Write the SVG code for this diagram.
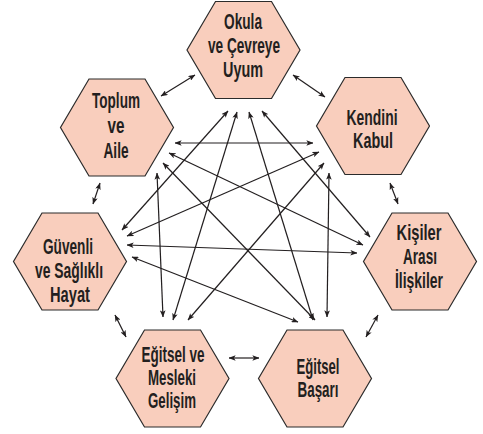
<svg xmlns="http://www.w3.org/2000/svg" width="483" height="434" viewBox="0 0 483 434">
<style>
.hex{fill:#f9cebd;stroke:#2b2b2b;stroke-width:1.2}
.t{font-family:"Liberation Sans Narrow","Liberation Sans",sans-serif;font-weight:bold;font-size:22px;fill:#231f20;text-anchor:middle}
.c line{stroke:#231f20;stroke-width:1.2;marker-start:url(#ah);marker-end:url(#ah)}
</style>
<defs>
<path id="hx" d="M-28,-48.5 L28,-48.5 L56.5,0 L28,48.5 L-28,48.5 L-56.5,0 Z"/>
<marker id="ah" viewBox="0 0 10 8" refX="9.5" refY="4" markerWidth="7" markerHeight="5.6" markerUnits="userSpaceOnUse" orient="auto-start-reverse">
<path d="M0,0 L10,4 L0,8 L2.5,4 Z" fill="#231f20"/>
</marker>
</defs>
<rect width="483" height="434" fill="#fff"/>
<g class="c" id="connectors">
<line x1="161" y1="96" x2="195" y2="75"/>
<line x1="293" y1="75" x2="325" y2="97"/>
<line x1="100" y1="183" x2="93" y2="204"/>
<line x1="390" y1="183" x2="398" y2="204"/>
<line x1="115" y1="315" x2="126" y2="337"/>
<line x1="378" y1="315" x2="366" y2="337"/>
<line x1="229" y1="358" x2="259" y2="358"/>
<line x1="175" y1="143" x2="313" y2="143"/>
<line x1="169" y1="153" x2="363" y2="245"/>
<line x1="163" y1="163" x2="315" y2="320"/>
<line x1="157" y1="173" x2="163" y2="317"/>
<line x1="319" y1="152" x2="127" y2="236"/>
<line x1="324" y1="163" x2="188" y2="320"/>
<line x1="329" y1="173" x2="327" y2="317"/>
<line x1="228" y1="111" x2="122" y2="230"/>
<line x1="127" y1="245" x2="357" y2="253"/>
<line x1="132" y1="257" x2="298" y2="322"/>
<line x1="262" y1="111" x2="370" y2="237"/>
<line x1="237" y1="112" x2="173" y2="320"/>
<line x1="249" y1="112" x2="313" y2="320"/>
</g>
<g id="okula">
<use href="#hx" class="hex" x="243.5" y="50"/>
<text class="t" x="243" y="29" textLength="38" lengthAdjust="spacingAndGlyphs">Okula</text>
<text class="t" x="244" y="53" textLength="72" lengthAdjust="spacingAndGlyphs">ve Çevreye</text>
<text class="t" x="243" y="77" textLength="40" lengthAdjust="spacingAndGlyphs">Uyum</text>
</g>
<g id="toplum">
<use href="#hx" class="hex" x="117" y="127.5"/>
<text class="t" x="116" y="108" textLength="48" lengthAdjust="spacingAndGlyphs">Toplum</text>
<text class="t" x="116" y="133" textLength="17" lengthAdjust="spacingAndGlyphs">ve</text>
<text class="t" x="116" y="158" textLength="25" lengthAdjust="spacingAndGlyphs">Aile</text>
</g>
<g id="kendini">
<use href="#hx" class="hex" x="373" y="126"/>
<text class="t" x="372" y="125" textLength="51" lengthAdjust="spacingAndGlyphs">Kendini</text>
<text class="t" x="373" y="148" textLength="40" lengthAdjust="spacingAndGlyphs">Kabul</text>
</g>
<g id="guvenli">
<use href="#hx" class="hex" x="70" y="261.5"/>
<text class="t" x="68" y="254" textLength="50" lengthAdjust="spacingAndGlyphs">Güvenli</text>
<text class="t" x="69" y="278" textLength="68" lengthAdjust="spacingAndGlyphs">ve Sağlıklı</text>
<text class="t" x="70" y="302" textLength="40" lengthAdjust="spacingAndGlyphs">Hayat</text>
</g>
<g id="kisiler">
<use href="#hx" class="hex" x="420" y="261.5"/>
<text class="t" x="419" y="240" textLength="45" lengthAdjust="spacingAndGlyphs">Kişiler</text>
<text class="t" x="420" y="264" textLength="34" lengthAdjust="spacingAndGlyphs">Arası</text>
<text class="t" x="419" y="288" textLength="48" lengthAdjust="spacingAndGlyphs">İlişkiler</text>
</g>
<g id="mesleki">
<use href="#hx" class="hex" x="172.5" y="378.5"/>
<text class="t" x="173" y="362" textLength="63" lengthAdjust="spacingAndGlyphs">Eğitsel ve</text>
<text class="t" x="172" y="385" textLength="48" lengthAdjust="spacingAndGlyphs">Mesleki</text>
<text class="t" x="172" y="408" textLength="48" lengthAdjust="spacingAndGlyphs">Gelişim</text>
</g>
<g id="basari">
<use href="#hx" class="hex" x="315" y="378.5"/>
<text class="t" x="318" y="374" textLength="43" lengthAdjust="spacingAndGlyphs">Eğitsel</text>
<text class="t" x="318" y="397" textLength="41" lengthAdjust="spacingAndGlyphs">Başarı</text>
</g>
</svg>
